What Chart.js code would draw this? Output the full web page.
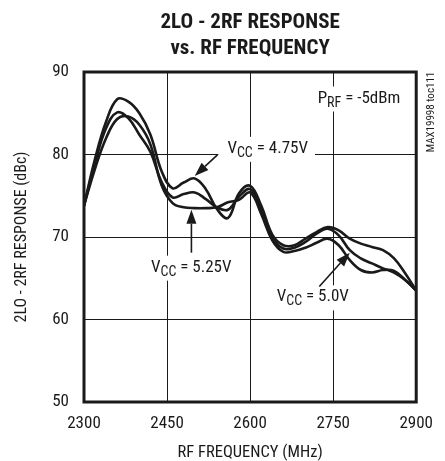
<!DOCTYPE html>
<html>
<head>
<meta charset="utf-8">
<script src="https://cdn.jsdelivr.net/npm/chart.js@4.4.1/dist/chart.umd.min.js"></script>
<style>
  html, body { margin: 0; padding: 0; background: #fff; }
  #wrap { width: 445px; height: 461px; }
</style>
</head>
<body>
<div id="wrap"><canvas id="chart" width="445" height="461"></canvas></div>
<script>
// RF frequency (MHz) and 2LO-2RF response (dBc)
const freqs = [2300, 2320, 2340, 2360, 2380, 2400, 2420, 2440, 2460, 2480, 2500,
               2520, 2540, 2560, 2580, 2600, 2620, 2640, 2660, 2680, 2700,
               2720, 2740, 2760, 2780, 2800, 2820, 2840, 2860, 2880, 2900];
const vcc475 = [73.8, 79.5, 84.0, 86.7, 86.4, 85.0, 82.4, 78.0, 75.9, 76.6, 77.1,
                75.8, 73.4, 72.3, 75.3, 76.2, 73.8, 70.3, 69.0, 69.0, 69.8,
                70.6, 71.2, 70.8, 69.8, 69.2, 68.8, 68.4, 67.4, 65.6, 63.5];
const vcc500 = [73.8, 79.0, 83.2, 85.1, 84.4, 82.4, 80.3, 76.7, 74.8, 75.2, 75.4,
                74.6, 73.6, 73.3, 74.9, 75.8, 73.3, 69.9, 68.6, 68.7, 69.4,
                70.4, 71.0, 70.2, 68.4, 67.4, 66.8, 66.2, 65.7, 64.8, 63.5];
const vcc525 = [73.8, 78.3, 82.0, 84.3, 84.6, 83.6, 81.2, 76.3, 74.1, 73.6, 73.5,
                73.5, 73.6, 74.2, 74.5, 75.4, 72.8, 69.6, 68.2, 68.3, 68.7,
                69.3, 69.8, 69.0, 67.2, 66.0, 65.7, 66.0, 65.9, 64.8, 63.5];
const xTicks = [2300, 2450, 2600, 2750, 2900];
const yTicks = [50, 60, 70, 80, 90];

const FONT = "'Roboto Condensed', 'Liberation Sans Narrow', 'Arial Narrow', 'DejaVu Sans Condensed', sans-serif";
const INK = '#1a1a1a';

function series(vals) {
    return freqs.map((f, i) => ({x: f, y: vals[i]}));
}

// text with subscript parts, e.g. V + CC
function richText(ctx, x, y, parts) {
    let cx = x;
    parts.forEach(p => {
        ctx.font = (p.sub ? '14px ' : '17px ') + FONT;
        ctx.fillText(p.t, cx, p.sub ? y + 4 : y);
        cx += ctx.measureText(p.t).width;
    });
    return cx - x;
}

function arrow(ctx, x1, y1, x2, y2) {
    const ang = Math.atan2(y2 - y1, x2 - x1);
    const len = 14, half = 5;
    ctx.beginPath();
    ctx.moveTo(x1, y1);
    ctx.lineTo(x2 - Math.cos(ang) * len, y2 - Math.sin(ang) * len);
    ctx.lineWidth = 1.6;
    ctx.stroke();
    ctx.beginPath();
    ctx.moveTo(x2, y2);
    ctx.lineTo(x2 - Math.cos(ang) * len - Math.sin(ang) * half, y2 - Math.sin(ang) * len + Math.cos(ang) * half);
    ctx.lineTo(x2 - Math.cos(ang) * len + Math.sin(ang) * half, y2 - Math.sin(ang) * len - Math.cos(ang) * half);
    ctx.closePath();
    ctx.fill();
}

const labels = [
    {f: 2559, v: 80.2, parts: [{t: 'V'}, {t: 'CC', sub: true}, {t: ' = 4.75V'}]},
    {f: 2722, v: 86.3, parts: [{t: 'P'}, {t: 'RF', sub: true}, {t: ' = -5dBm'}]},
    {f: 2421, v: 65.8, parts: [{t: 'V'}, {t: 'CC', sub: true}, {t: ' = 5.25V'}]},
    {f: 2648, v: 62.2, parts: [{t: 'V'}, {t: 'CC', sub: true}, {t: ' = 5.0V'}]}
];
const arrows = [
    {from: [2541, 79.95], to: [2500, 77.4]},
    {from: [2494, 68.1], to: [2494, 73.3]},
    {from: [2725, 64.0], to: [2780, 68.1]}
];

const decor = {
    id: 'decor',
    beforeDatasetsDraw(chart) {
        const {ctx, scales: {x, y}} = chart;
        ctx.save();
        ctx.fillStyle = INK;
        ctx.strokeStyle = INK;
        ctx.textBaseline = 'alphabetic';
        labels.forEach(l => {
            const px = x.getPixelForValue(l.f), py = y.getPixelForValue(l.v);
            // measure first, then blank out the grid behind the text
            ctx.save();
            ctx.globalAlpha = 0;
            const w = richText(ctx, px, py, l.parts);
            ctx.restore();
            ctx.fillStyle = '#fff';
            ctx.fillRect(px - 9, py - 16, w + 16, 25);
            ctx.fillStyle = INK;
            richText(ctx, px, py, l.parts);
        });
        arrows.forEach(a => {
            arrow(ctx, x.getPixelForValue(a.from[0]), y.getPixelForValue(a.from[1]),
                  x.getPixelForValue(a.to[0]), y.getPixelForValue(a.to[1]));
        });
        ctx.restore();
    },
    afterDatasetsDraw(chart) {
        const {ctx, chartArea: a} = chart;
        ctx.save();
        ctx.strokeStyle = INK;
        ctx.lineWidth = 3;
        ctx.strokeRect(a.left, a.top, a.right - a.left, a.bottom - a.top);
        ctx.restore();
    },
    afterDraw(chart) {
        const {ctx, chartArea: a} = chart;
        const cx = (a.left + a.right) / 2;
        ctx.save();
        ctx.fillStyle = INK;
        ctx.textAlign = 'center';
        ctx.textBaseline = 'alphabetic';
        ctx.font = 'bold 21px ' + FONT;
        ctx.fillText('2LO - 2RF RESPONSE', cx, 28);
        ctx.fillText('vs. RF FREQUENCY', cx, 54);
        // part number, reading upward at the right edge
        ctx.translate(a.right + 15, a.top + 40);
        ctx.rotate(-Math.PI / 2);
        ctx.font = '11px ' + FONT;
        ctx.textBaseline = 'middle';
        ctx.fillText('MAX19998 toc111', 0, 0);
        ctx.restore();
    }
};

const lineStyle = {
    borderColor: INK,
    borderWidth: 2.6,
    pointRadius: 0,
    fill: false,
    tension: 0.4
};

new Chart(document.getElementById('chart').getContext('2d'), {
    type: 'line',
    data: {
        datasets: [
            Object.assign({label: 'VCC = 4.75V', data: series(vcc475)}, lineStyle),
            Object.assign({label: 'VCC = 5.0V', data: series(vcc500)}, lineStyle),
            Object.assign({label: 'VCC = 5.25V', data: series(vcc525)}, lineStyle)
        ]
    },
    options: {
        responsive: false,
        animation: false,
        devicePixelRatio: 1,
        layout: {padding: {top: 72, right: 28, left: 0, bottom: 0}},
        plugins: {
            legend: {display: false},
            title: {display: false},
            tooltip: {enabled: false}
        },
        scales: {
            x: {
                type: 'linear',
                min: 2300,
                max: 2900,
                afterBuildTicks: s => { s.ticks = xTicks.map(v => ({value: v})); },
                afterFit: s => { s.height = 59; },
                grid: {color: INK, lineWidth: 1, drawTicks: false},
                border: {display: false},
                ticks: {color: INK, padding: 12, maxRotation: 0, callback: v => String(v),
                        font: {family: FONT, size: 17}},
                title: {
                    display: true,
                    text: 'RF FREQUENCY (MHz)',
                    color: INK,
                    padding: {top: 0, bottom: 0},
                    font: {family: FONT, size: 16.5, lineHeight: 1}
                }
            },
            y: {
                min: 50,
                max: 90,
                afterBuildTicks: s => { s.ticks = yTicks.map(v => ({value: v})); },
                afterFit: s => { s.width = 84; },
                grid: {color: INK, lineWidth: 1, drawTicks: false},
                border: {display: false},
                ticks: {color: INK, padding: 15, callback: v => String(v),
                        font: {family: FONT, size: 17}},
                title: {
                    display: true,
                    text: '2LO - 2RF RESPONSE (dBc)',
                    color: INK,
                    padding: {top: 14, bottom: 0},
                    font: {family: FONT, size: 16, lineHeight: 1}
                }
            }
        }
    },
    plugins: [decor]
});
</script>
</body>
</html>
